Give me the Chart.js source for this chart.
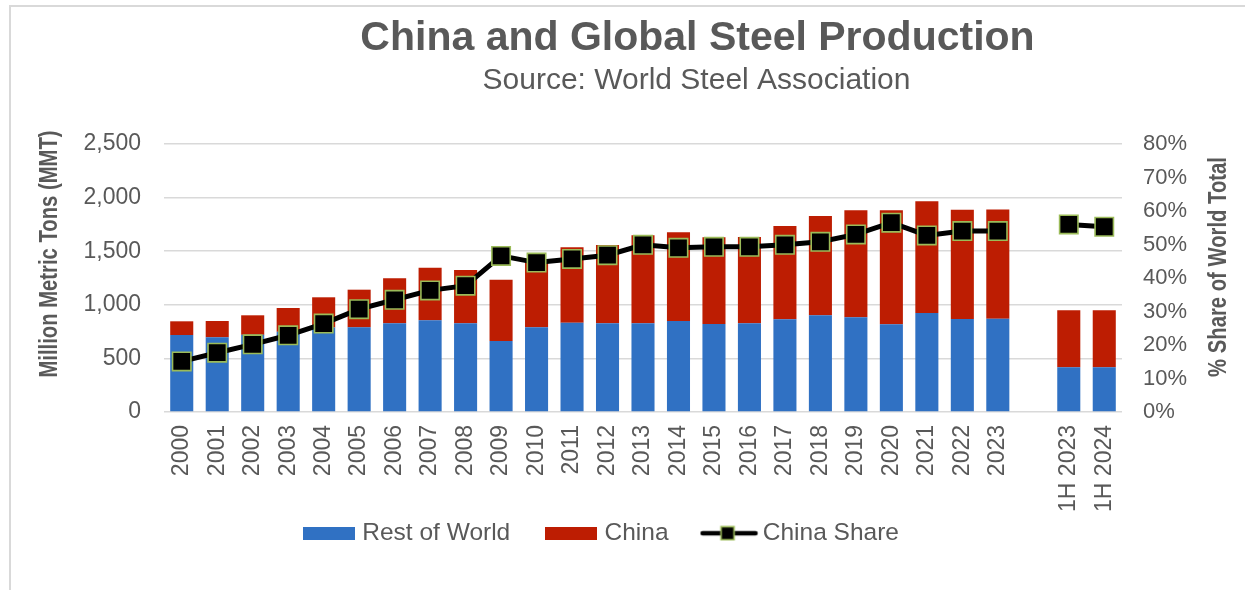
<!DOCTYPE html>
<html>
<head>
<meta charset="utf-8">
<title>China and Global Steel Production</title>
<script src="https://cdn.jsdelivr.net/npm/chart.js@4.4.1/dist/chart.umd.min.js"></script>
<style>
  html, body { margin: 0; padding: 0; background: #ffffff; }
  #wrap { position: relative; width: 1245px; height: 590px; overflow: hidden; }
  #frame { position: absolute; left: 9px; top: 5px; width: 1400px; height: 700px;
           border-left: 2px solid #D9D9D9; border-top: 2px solid #D9D9D9; box-sizing: border-box; }
  #c { position: absolute; left: 0; top: 0; }
</style>
</head>
<body>
<div id="wrap">
  <div id="frame"></div>
  <canvas id="c" width="1245" height="590"></canvas>
</div>
<script>
// ---------------- DATA ----------------
const categories = ['2000','2001','2002','2003','2004','2005','2006','2007','2008','2009',
  '2010','2011','2012','2013','2014','2015','2016','2017','2018','2019',
  '2020','2021','2022','2023','','1H 2023','1H 2024'];

// Million metric tons
const restOfWorld = [718, 697, 720, 748, 788, 790, 827, 855, 827, 662,
  790, 833, 827, 827, 849, 821, 827, 865, 902, 883,
  818, 923, 868, 871, null, 417, 417];

const china = [128, 152, 182, 222, 282, 351, 420, 491, 498, 572,
  636, 703, 731, 821, 827, 809, 805, 870, 926, 998,
  1063, 1042, 1019, 1019, null, 532, 532];

// China share of world total, percent
const chinaShare = [15.1, 17.7, 20.2, 22.9, 26.4, 30.7, 33.5, 36.3, 37.7, 46.6,
  44.6, 45.7, 46.8, 49.9, 49.0, 49.3, 49.3, 49.9, 50.8, 53.0,
  56.5, 52.7, 54.0, 54.0, null, 56.0, 55.3];

const leftTickValues = [0, 500, 1000, 1500, 2000, 2500];
const rightTickValues = [0, 10, 20, 30, 40, 50, 60, 70, 80];

const seriesNames = ['Rest of World', 'China', 'China Share'];
const titleText = 'China and Global Steel Production';
const subtitleText = 'Source: World Steel Association';
const leftAxisTitle = 'Million Metric Tons (MMT)';
const rightAxisTitle = '% Share of World Total';

// ---------------- STYLE ----------------
const BLUE = '#3071C3';
const RED = '#BD1D02';
const GREEN = '#9BBB59';
const TEXT = '#595959';
const GRID = '#D9D9D9';
const FAMILY = '"Liberation Sans", Arial, sans-serif';

Chart.defaults.font.family = FAMILY;
Chart.defaults.color = TEXT;

// legend icons
function makeBox(color) {
  const c = document.createElement('canvas');
  c.width = 52; c.height = 13;
  const x = c.getContext('2d');
  x.fillStyle = color; x.fillRect(0, 0, 52, 13);
  return c;
}
function makeLineSample() {
  const c = document.createElement('canvas');
  c.width = 60; c.height = 16;
  const x = c.getContext('2d');
  x.strokeStyle = '#000'; x.lineWidth = 4.5; x.lineCap = 'round';
  x.beginPath(); x.moveTo(3, 8); x.lineTo(56, 8); x.stroke();
  x.fillStyle = '#000'; x.fillRect(21.5, 1.5, 13, 13);
  x.strokeStyle = GREEN; x.lineWidth = 1.6; x.strokeRect(21.5, 1.5, 13, 13);
  return c;
}
const legendIcons = [makeBox(BLUE), makeBox(RED), makeLineSample()];
const LEGEND_PAD = 40;

function drawAxisTitle(ctx, text, cx, cy) {
  ctx.save();
  ctx.fillStyle = TEXT;
  ctx.font = 'bold 25px ' + FAMILY;
  ctx.textAlign = 'center';
  ctx.textBaseline = 'middle';
  ctx.translate(cx, cy);
  ctx.rotate(-Math.PI / 2);
  ctx.scale(0.81, 1);
  ctx.fillText(text, 0, 0);
  ctx.restore();
}

const tweakPlugin = {
  id: 'tweak',
  afterLayout(chart) {
    const t = chart.titleBlock;
    if (t) { t.left += 75; t.right += 75; }
    chart.boxes.forEach(b => {
      if (b !== t && b.options && b.options.text === subtitleText) { b.left += 74; b.right += 74; }
    });
    const lg = chart.legend;
    if (lg && lg.lineWidths) {
      const W = lg.right - lg.left;
      const L = lg.lineWidths[0];
      const x1 = 601 - (L - LEGEND_PAD - 5) / 2;          // first item cursor x
      const left = x1 - (W + LEGEND_PAD - L) / 2;         // center-align inverse
      lg.left = left; lg.right = left + W;
      const H = lg.bottom - lg.top;
      const top = 521 - LEGEND_PAD;
      lg.top = top; lg.bottom = top + H;
    }
  },
  afterDraw(chart) {
    const a = chart.chartArea;
    const mid = (a.top + a.bottom) / 2;
    drawAxisTitle(chart.ctx, leftAxisTitle, a.left - 114, mid - 24);
    drawAxisTitle(chart.ctx, rightAxisTitle, a.right + 97, mid - 11);
  }
};

const fmtThousands = v => v.toLocaleString('en-US');

new Chart(document.getElementById('c'), {
  data: {
    labels: categories,
    datasets: [
      {
        type: 'bar', label: seriesNames[0], data: restOfWorld,
        backgroundColor: BLUE, borderWidth: 0, order: 1,
        barPercentage: 0.65, categoryPercentage: 1.0, yAxisID: 'y'
      },
      {
        type: 'bar', label: seriesNames[1], data: china,
        backgroundColor: RED, borderWidth: 0, order: 1,
        barPercentage: 0.65, categoryPercentage: 1.0, yAxisID: 'y'
      },
      {
        type: 'line', label: seriesNames[2], data: chinaShare, yAxisID: 'y1',
        borderColor: '#000000', borderWidth: 5, backgroundColor: '#000000',
        pointStyle: 'rect', pointRadius: 13, pointHoverRadius: 13,
        pointBackgroundColor: '#000000', pointBorderColor: GREEN, pointBorderWidth: 1.6,
        spanGaps: false, tension: 0, order: 0
      }
    ]
  },
  options: {
    responsive: false,
    animation: false,
    devicePixelRatio: 1,
    layout: { padding: { left: 0, right: 0, top: 0, bottom: 0 } },
    plugins: {
      title: {
        display: true, text: titleText, color: TEXT,
        font: { size: 41, weight: 'bold', family: FAMILY },
        padding: { top: 14, bottom: 0 }
      },
      subtitle: {
        display: true, text: subtitleText, color: TEXT,
        font: { size: 30, weight: 'normal', family: FAMILY },
        padding: { top: 0, bottom: 44.8 }
      },
      legend: {
        display: true, position: 'bottom',
        labels: {
          usePointStyle: true, pointStyleWidth: 42,
          padding: LEGEND_PAD, color: TEXT,
          font: { size: 24.5, family: FAMILY },
          sort: (a, b) => a.datasetIndex - b.datasetIndex,
          generateLabels(chart) {
            const items = Chart.defaults.plugins.legend.labels.generateLabels(chart);
            items.forEach(it => { it.pointStyle = legendIcons[it.datasetIndex]; it.lineWidth = 0; });
            return items;
          }
        }
      },
      tooltip: { enabled: false }
    },
    scales: {
      x: {
        stacked: true,
        grid: { display: false, drawTicks: false },
        border: { display: false },
        ticks: {
          autoSkip: false, maxRotation: 90, minRotation: 90,
          padding: 13, color: TEXT, font: { size: 23 }
        },
        afterFit(scale) { scale.height = 103.5; }
      },
      y: {
        stacked: true, position: 'left', min: 0, max: 2500,
        grid: { color: GRID, lineWidth: 1.5, drawTicks: false },
        border: { display: false },
        ticks: { padding: 23, color: TEXT, font: { size: 23 }, callback: v => fmtThousands(v) },
        afterBuildTicks(scale) { scale.ticks = leftTickValues.map(v => ({ value: v })); },
        afterFit(scale) { scale.width = 164; }
      },
      y1: {
        position: 'right', min: 0, max: 80,
        grid: { display: false, drawTicks: false },
        border: { display: false },
        ticks: { padding: 21, color: TEXT, font: { size: 22 }, callback: v => v + '%' },
        afterBuildTicks(scale) { scale.ticks = rightTickValues.map(v => ({ value: v })); },
        afterFit(scale) { scale.width = 123; }
      }
    }
  },
  plugins: [tweakPlugin]
});
</script>
</body>
</html>
